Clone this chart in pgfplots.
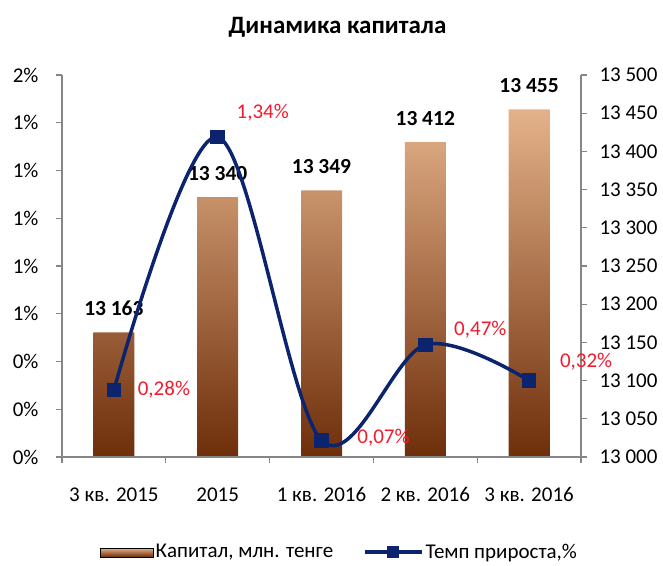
\documentclass[border=0pt]{standalone}
\usepackage{fontspec}
\setmainfont{Carlito}
\usepackage{pgfplots}
\usepackage{pgfplotstable}
\pgfplotsset{compat=1.18}
\definecolor{navy}{RGB}{12,36,110}
\definecolor{axgray}{RGB}{134,134,134}
\definecolor{redlab}{RGB}{240,28,45}
\definecolor{barTop}{RGB}{228,178,138}
\definecolor{barMid}{RGB}{206,112,46}
\definecolor{barBot}{RGB}{110,46,10}

\pgfplotstableread{
x cap
0 13163
1 13340
2 13349
3 13412
4 13455
}\capdata

\pgfplotstableread{
x rate dx dy
0 0.28 50 0
1 1.34 45 24
2 0.07 62 3
3 0.47 55 15
4 0.32 57 19
}\ratedata

\pgfplotsset{
  base/.style={
    at={(62pt,108pt)}, anchor=south west,
    scale only axis, width=519pt, height=382pt,
    xmin=-0.5, xmax=4.5,
    font=\fontsize{21}{25}\selectfont,
    /pgf/number format/assume math mode=true,
    axis line style={axgray, line width=1.3pt},
    tick style={axgray, line width=1.3pt},
    major tick length=6pt,
    tick align=outside,
  }
}

\begin{document}
\begin{tikzpicture}
\useasboundingbox (0pt,0pt) rectangle (663pt,565pt);

% bars, right axis
\begin{axis}[base,
  axis y line*=right, axis x line*=bottom,
  ymin=0, ymax=500,
  ytick={0,50,...,500},
  yticklabels={13 000,13 050,13 100,13 150,13 200,13 250,13 300,13 350,13 400,13 450,13 500},
  yticklabel style={xshift=9pt},
  xtick={-0.5,0.5,1.5,2.5,3.5,4.5}, xticklabels={},
]
\addplot[ybar, bar width=41pt, bar shift=0pt, draw=none,
  top color=barTop, middle color=barMid, bottom color=barBot,
  point meta=explicit,
  nodes near coords={\pgfmathprintnumber[fixed,precision=0,1000 sep={\hspace{0.22em}}]{\pgfplotspointmeta}},
  nodes near coords style={anchor=center, yshift=24pt, text=black,
    font=\bfseries\fontsize{21.5}{25}\selectfont},
] table[x=x, y expr=\thisrow{cap}-13000, meta=cap]{\capdata};
\end{axis}

% line, left axis
\begin{axis}[base,
  axis y line*=left, axis x line*=bottom,
  ymin=0, ymax=1.6, clip=false,
  ytick={0,0.2,0.4,0.6,0.8,1,1.2,1.4,1.6},
  yticklabels={0\%,0\%,0\%,1\%,1\%,1\%,1\%,1\%,2\%},
  yticklabel style={xshift=-14pt},
  xtick={0,1,2,3,4},
  xticklabels={3 кв. 2015, 2015, 1 кв. 2016, 2 кв. 2016, 3 кв. 2016},
  xtick style={draw=none},
  xticklabel style={yshift=-21pt},
  legend style={at={(0.535,-0.2487)}, anchor=center, draw=none, fill=none,
    font=\fontsize{21}{25}\selectfont,
    /tikz/every even column/.append style={column sep=28pt}},
  legend columns=2,
]
\addlegendimage{legend image code/.code={
  \shade[top color=barTop, middle color=barMid, bottom color=barBot] (0pt,-5pt) rectangle (53pt,4pt);}}
\addlegendentry{Капитал, млн. тенге}
\addlegendimage{legend image code/.code={
  \draw[navy, line width=3.5pt, mark=square*, mark size=4.5pt, mark repeat=2, mark phase=2]
    plot coordinates {(0pt,0pt) (28pt,0pt) (57pt,0pt)};}}
\addlegendentry{Темп прироста,\%}
\addplot[forget plot, navy, line width=3.5pt, smooth, tension=0.55,
  mark=square*, mark size=5.5pt, mark options={solid},
  point meta=y,
  visualization depends on={\thisrow{dx}\as\dx},
  visualization depends on={\thisrow{dy}\as\dy},
  nodes near coords={\pgfmathprintnumber[fixed,fixed zerofill,precision=2,use comma]{\pgfplotspointmeta}\%},
  nodes near coords style={anchor=center, text=redlab, xshift=\dx pt, yshift=\dy pt,
    font=\fontsize{21}{25}\selectfont},
] table[x=x, y=rate]{\ratedata};
\end{axis}

\node[font=\bfseries\fontsize{25}{30}\selectfont] at (337.5pt,538pt) {Динамика капитала};
\end{tikzpicture}
\end{document}
